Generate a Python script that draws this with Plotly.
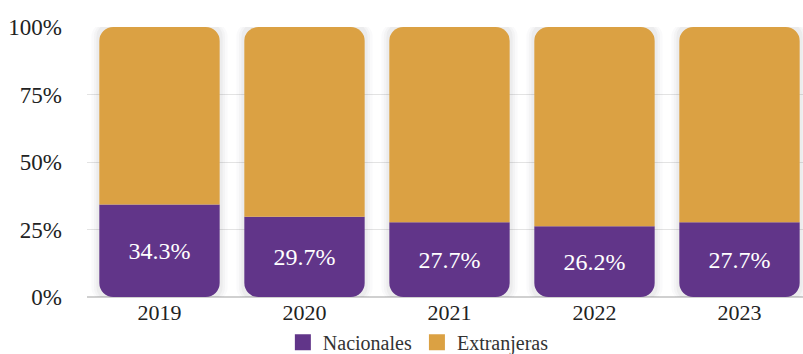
import plotly.graph_objects as go

years = ["2019", "2020", "2021", "2022", "2023"]
nacionales = [34.3, 29.7, 27.7, 26.2, 27.7]
extranjeras = [round(100 - v, 1) for v in nacionales]
tick_vals = [0, 25, 50, 75, 100]
tick_text = ["0%", "25%", "50%", "75%", "100%"]

PURPLE = "#613589"
GOLD = "#dba143"
FONT = "Liberation Serif"
BAR_W = 0.83
totals = [n + e for n, e in zip(nacionales, extranjeras)]

fig = go.Figure()

# soft halo around each full column
for extra, alpha in [(0.11, 0.022), (0.075, 0.032), (0.04, 0.045)]:
    fig.add_trace(go.Bar(
        x=years, y=[t + 3 for t in totals],
        base=[-1.5] * len(years), width=BAR_W + extra,
        marker=dict(color=f"rgba(60,60,70,{alpha})", line=dict(width=0)),
        showlegend=False, hoverinfo="skip",
    ))

# Each column gets its own hidden y-axis whose zero sits on the
# Nacionales/Extranjeras seam: Nacionales grows down from it (rounded
# at the bottom), Extranjeras grows up from it (rounded at the top),
# so the seam stays square.
axis_layout = {}
for i, (yr, nac, ext) in enumerate(zip(years, nacionales, extranjeras)):
    ax = f"y{i + 2}"
    axis_layout[f"yaxis{i + 2}"] = dict(
        overlaying="y", range=[-nac, 100 - nac], visible=False,
        showgrid=False, zeroline=False, automargin=False,
    )
    fig.add_trace(go.Bar(
        name="Nacionales", x=[yr], y=[-nac], yaxis=ax,
        width=BAR_W, marker=dict(color=PURPLE, line=dict(width=0)),
        text=[f"{nac:.1f}%"], textposition="inside",
        insidetextanchor="middle", textangle=0,
        textfont=dict(family=FONT, size=24, color="white"),
        showlegend=False, customdata=[nac],
        hovertemplate="%{x}: %{customdata}%<extra>Nacionales</extra>",
    ))
    fig.add_trace(go.Bar(
        name="Extranjeras", x=[yr], y=[ext], yaxis=ax,
        width=BAR_W, marker=dict(color=GOLD, line=dict(width=0)),
        textposition="none", showlegend=False,
        hovertemplate="%{x}: %{y}%<extra>Extranjeras</extra>",
    ))

# legend entries with square swatches
for name, color in [("Nacionales", PURPLE), ("Extranjeras", GOLD)]:
    fig.add_trace(go.Scatter(
        x=[None], y=[None], mode="markers", name=name,
        marker=dict(symbol="square", size=16, color=color),
    ))

fig.update_layout(
    barmode="overlay",
    barcornerradius=14,
    width=803, height=354,
    margin=dict(l=87, r=0, t=27, b=57, autoexpand=False),
    paper_bgcolor="white", plot_bgcolor="white",
    font=dict(family=FONT, color="#222222"),
    showlegend=True,
    legend=dict(
        orientation="h", xref="container", x=0.521, xanchor="center",
        yref="container", y=0.033, yanchor="middle",
        font=dict(family=FONT, size=20, color="#333333"),
        traceorder="normal", itemwidth=30,
    ),
    xaxis=dict(
        type="category", categoryorder="array", categoryarray=years,
        range=[-0.5, 4.438], showgrid=False, zeroline=False,
        tickfont=dict(family=FONT, size=22, color="#222222"),
        ticks="", showline=False, automargin=False,
    ),
    yaxis=dict(
        range=[0, 100], tickvals=tick_vals, ticktext=tick_text,
        tickfont=dict(family=FONT, size=23, color="#222222"),
        showgrid=True, gridcolor="#e3e3e3", gridwidth=1,
        zeroline=True, zerolinecolor="#d0d0d0", zerolinewidth=2,
        ticks="", ticklabelstandoff=24, automargin=False,
    ),
    **axis_layout,
)

fig.write_html("out.html")
